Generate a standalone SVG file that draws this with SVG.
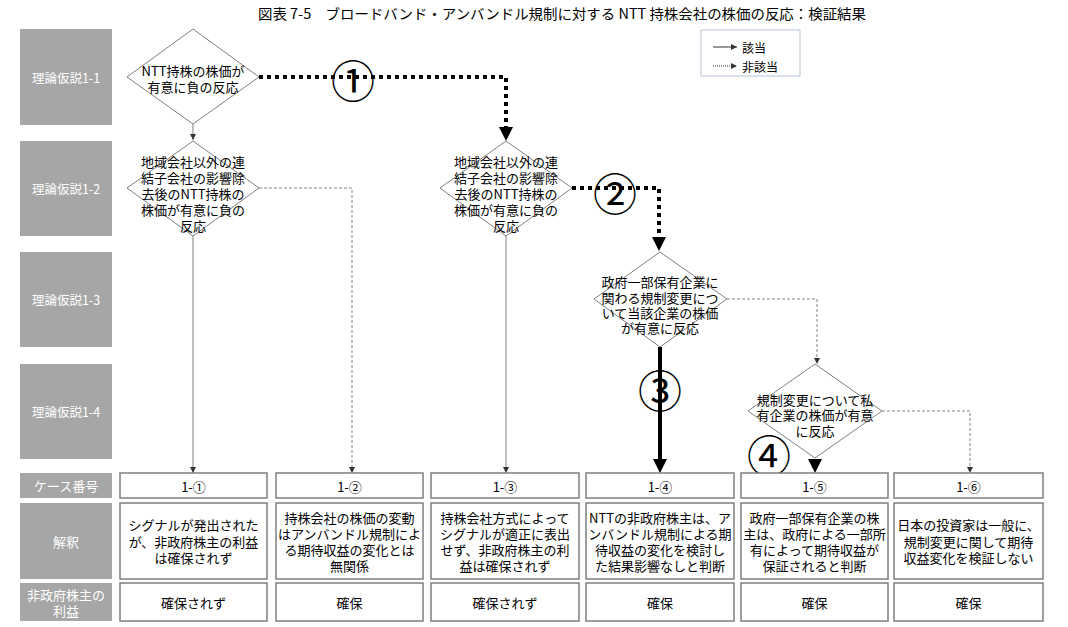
<svg xmlns="http://www.w3.org/2000/svg" width="1068" height="627" viewBox="0 0 1068 627">
<style>
text{font-family:"Noto Sans CJK JP","Noto Sans CJK SC",sans-serif;}
.title{font-size:14px;fill:#000;}
.glabel{fill:#a6a6a6;}
.gt{font-size:12.5px;fill:#fff;text-anchor:middle;dominant-baseline:central;}
.gb{font-size:13px;fill:#fff;text-anchor:middle;dominant-baseline:central;}
.dia{fill:#fff;stroke:#808080;stroke-width:1;}
.dt{font-size:13px;fill:#000;text-anchor:middle;dominant-baseline:central;}
.box{fill:#fff;stroke:#7f7f7f;stroke-width:1.5;}
.bt{font-size:13px;fill:#000;text-anchor:middle;dominant-baseline:central;}
.thin{fill:none;stroke:#808080;stroke-width:1;}
.dash{fill:none;stroke:#808080;stroke-width:1;stroke-dasharray:3 2;}
.dot{fill:none;stroke:#000;stroke-width:4;stroke-dasharray:4 4;}
.thick{fill:none;stroke:#000;stroke-width:4;}
.num{font-size:44px;fill:#000;text-anchor:middle;dominant-baseline:central;}
.lg{font-size:12px;fill:#000;dominant-baseline:central;}
</style>
<defs>
<marker id="sm" viewBox="0 0 6 6" markerWidth="6" markerHeight="6" refX="6" refY="3" orient="auto" markerUnits="userSpaceOnUse"><path d="M0,0 L6,3 L0,6 z" fill="#333"/></marker>
</defs>

<text class="title" x="562" y="19" text-anchor="middle" textLength="608" lengthAdjust="spacingAndGlyphs">図表 7-5　ブロードバンド・アンバンドル規制に対する NTT 持株会社の株価の反応：検証結果</text>

<g id="labels">
<rect class="glabel" x="20" y="29" width="92" height="96"/><text class="gt" x="66" y="77">理論仮説1-1</text>
<rect class="glabel" x="20" y="141" width="92" height="95"/><text class="gt" x="66" y="188">理論仮説1-2</text>
<rect class="glabel" x="20" y="252" width="92" height="95"/><text class="gt" x="66" y="299">理論仮説1-3</text>
<rect class="glabel" x="20" y="364" width="92" height="95"/><text class="gt" x="66" y="411">理論仮説1-4</text>
<rect class="glabel" x="20" y="473" width="92" height="25"/><text class="gb" x="66" y="485.5">ケース番号</text>
<rect class="glabel" x="20" y="503" width="92" height="76"/><text class="gb" x="66" y="541">解釈</text>
<rect class="glabel" x="20" y="583" width="92" height="38"/><text class="gb" x="66" y="594">非政府株主の</text><text class="gb" x="66" y="610">利益</text>
</g>

<g id="legend">
<rect x="701" y="30" width="99" height="46" fill="#fff" stroke="#b8c4d6" stroke-width="1"/>
<line x1="713" y1="47" x2="737" y2="47" stroke="#333" stroke-width="1" marker-end="url(#sm)"/>
<text class="lg" x="742" y="47">該当</text>
<line x1="713" y1="66" x2="737" y2="66" stroke="#333" stroke-width="1" stroke-dasharray="1 1" marker-end="url(#sm)"/>
<text class="lg" x="742" y="66">非該当</text>
</g>

<g id="connectors">
<path class="thin" d="M193,124 V140" marker-end="url(#sm)"/>
<path class="thin" d="M193,236 V473" marker-end="url(#sm)"/>
<path class="dash" d="M259,188 H352 V473" marker-end="url(#sm)"/>
<path class="thin" d="M506,236 V473" marker-end="url(#sm)"/>
<path class="dot" d="M259,77 H506 V127"/>
<path d="M499,127 L513,127 L506,141 z" fill="#000"/>
<path class="dot" d="M572,188 H659 V237"/>
<path d="M652,237 L666,237 L659,251 z" fill="#000"/>
<path class="thick" d="M660,347 V459"/>
<path d="M653,459 L667,459 L660,473 z" fill="#000"/>
<path d="M808,459 L822,459 L815,473 z" fill="#000"/>
<path class="dash" d="M727,299 H817 V364" marker-end="url(#sm)"/>
<path class="dash" d="M882,411 H970 V473" marker-end="url(#sm)"/>
<text class="num" x="353" y="79">①</text>
<text class="num" x="615" y="192">②</text>
<text class="num" x="660" y="389">③</text>
<text class="num" x="769" y="454">④</text>
</g>

<g id="h11">
<polygon class="dia" points="193,29 259,77 193,124 127,77"/>
<text class="dt" x="193" y="70">NTT持株の株価が</text>
<text class="dt" x="193" y="86">有意に負の反応</text>
</g>
<g id="h12a">
<polygon class="dia" points="193,141 259,188 193,236 127,188"/>
<text class="dt" x="193" y="161">地域会社以外の連</text>
<text class="dt" x="193" y="177">結子会社の影響除</text>
<text class="dt" x="193" y="193">去後のNTT持株の</text>
<text class="dt" x="193" y="209">株価が有意に負の</text>
<text class="dt" x="193" y="225">反応</text>
</g>
<g id="h12b">
<polygon class="dia" points="506,141 572,188 506,236 440,188"/>
<text class="dt" x="506" y="161">地域会社以外の連</text>
<text class="dt" x="506" y="177">結子会社の影響除</text>
<text class="dt" x="506" y="193">去後のNTT持株の</text>
<text class="dt" x="506" y="209">株価が有意に負の</text>
<text class="dt" x="506" y="225">反応</text>
</g>
<g id="h13">
<polygon class="dia" points="660,252 727,299 660,347 594,299"/>
<text class="dt" x="660" y="281">政府一部保有企業に</text>
<text class="dt" x="660" y="297">関わる規制変更につ</text>
<text class="dt" x="660" y="312">いて当該企業の株価</text>
<text class="dt" x="660" y="327">が有意に反応</text>
</g>
<g id="h14">
<polygon class="dia" points="815,364 882,411 815,458 748,411"/>
<text class="dt" x="815" y="399">規制変更について私</text>
<text class="dt" x="815" y="414">有企業の株価が有意</text>
<text class="dt" x="815" y="430">に反応</text>
</g>

<g id="case1">
<rect class="box" x="120" y="473" width="147" height="25"/><text class="bt" x="193.5" y="486">1-①</text>
<rect class="box" x="120" y="503" width="147" height="76"/>
<text class="bt" x="193.5" y="524">シグナルが発出された</text>
<text class="bt" x="193.5" y="541">が、非政府株主の利益</text>
<text class="bt" x="193.5" y="557">は確保されず</text>
<rect class="box" x="120" y="583" width="147" height="38"/><text class="bt" x="193.5" y="602">確保されず</text>
</g>
<g id="case2">
<rect class="box" x="276" y="473" width="147" height="25"/><text class="bt" x="349.5" y="486">1-②</text>
<rect class="box" x="276" y="503" width="147" height="76"/>
<text class="bt" x="349.5" y="517">持株会社の株価の変動</text>
<text class="bt" x="349.5" y="533">はアンバンドル規制によ</text>
<text class="bt" x="349.5" y="549">る期待収益の変化とは</text>
<text class="bt" x="349.5" y="565">無関係</text>
<rect class="box" x="276" y="583" width="147" height="38"/><text class="bt" x="349.5" y="602">確保</text>
</g>
<g id="case3">
<rect class="box" x="431" y="473" width="148" height="25"/><text class="bt" x="505" y="486">1-③</text>
<rect class="box" x="431" y="503" width="148" height="76"/>
<text class="bt" x="505" y="517">持株会社方式によって</text>
<text class="bt" x="505" y="533">シグナルが適正に表出</text>
<text class="bt" x="505" y="549">せず、非政府株主の利</text>
<text class="bt" x="505" y="565">益は確保されず</text>
<rect class="box" x="431" y="583" width="148" height="38"/><text class="bt" x="505" y="602">確保されず</text>
</g>
<g id="case4">
<rect class="box" x="586" y="473" width="148" height="25"/><text class="bt" x="660" y="486">1-④</text>
<rect class="box" x="586" y="503" width="148" height="76"/>
<text class="bt" x="660" y="517">NTTの非政府株主は、ア</text>
<text class="bt" x="660" y="533">ンバンドル規制による期</text>
<text class="bt" x="660" y="549">待収益の変化を検討し</text>
<text class="bt" x="660" y="565">た結果影響なしと判断</text>
<rect class="box" x="586" y="583" width="148" height="38"/><text class="bt" x="660" y="602">確保</text>
</g>
<g id="case5">
<rect class="box" x="741" y="473" width="147" height="25"/><text class="bt" x="814.5" y="486">1-⑤</text>
<rect class="box" x="741" y="503" width="147" height="76"/>
<text class="bt" x="814.5" y="517">政府一部保有企業の株</text>
<text class="bt" x="814.5" y="533">主は、政府による一部所</text>
<text class="bt" x="814.5" y="549">有によって期待収益が</text>
<text class="bt" x="814.5" y="565">保証されると判断</text>
<rect class="box" x="741" y="583" width="147" height="38"/><text class="bt" x="814.5" y="602">確保</text>
</g>
<g id="case6">
<rect class="box" x="894" y="473" width="149" height="25"/><text class="bt" x="968.5" y="486">1-⑥</text>
<rect class="box" x="894" y="503" width="149" height="76"/>
<text class="bt" x="968.5" y="524">日本の投資家は一般に、</text>
<text class="bt" x="968.5" y="541">規制変更に関して期待</text>
<text class="bt" x="968.5" y="557">収益変化を検証しない</text>
<rect class="box" x="894" y="583" width="149" height="38"/><text class="bt" x="968.5" y="602">確保</text>
</g>
</svg>
